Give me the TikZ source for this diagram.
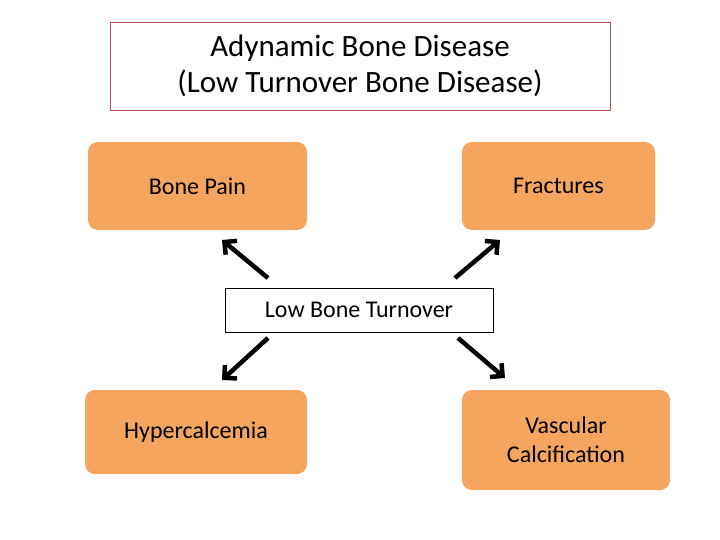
\documentclass[tikz,border=0pt]{standalone}
\usepackage{fontspec}
\setmainfont{Carlito}
\usetikzlibrary{arrows.meta,positioning}
\definecolor{boxorange}{HTML}{F6A55E}
\definecolor{titleframe}{HTML}{C0504D}
\tikzset{
block/.style={rectangle, fill=boxorange, text centered, rounded corners=10pt, font=\fontsize{24}{29}\selectfont, align=center},
line/.style={draw, line width=4.5pt, -{Straight Barb[length=9pt,width=18pt]}}
}
\begin{document}
\begin{tikzpicture}[x=1pt, y=-1pt]
    \useasboundingbox (0,0) rectangle (720,540);
    % Place nodes
    \node [draw=titleframe, line width=0.6pt, minimum width=500pt, minimum height=88pt, align=center,
           font=\fontsize{31}{36}\selectfont] (title) at (360,66) {Adynamic Bone Disease\\(Low Turnover Bone Disease)};
    \node [block, minimum width=219pt, minimum height=88pt] (pain) at (197.5,186) {Bone Pain};
    \node [block, minimum width=193pt, minimum height=88pt] (fract) at (558.5,186) {Fractures};
    \node [draw, line width=0.6pt, minimum width=268pt, minimum height=44pt,
           font=\fontsize{24}{29}\selectfont] (low) at (359,310) {Low Bone Turnover};
    \node [block, minimum width=222pt, minimum height=84pt] (hyper) at (196,432) {Hypercalcemia};
    \node [block, minimum width=208pt, minimum height=100pt] (vasc) at (566,440) {Vascular\\Calcification};
    % Arrow ends
    \coordinate (a1) at (268,278); \coordinate (b1) at (222,240);
    \coordinate (a2) at (455,278); \coordinate (b2) at (500,240);
    \coordinate (a3) at (268,338); \coordinate (b3) at (222,380);
    \coordinate (a4) at (458,338); \coordinate (b4) at (505,378);
    % Draw edges
    \path [line] (a1) -- (b1);
    \path [line] (a2) -- (b2);
    \path [line] (a3) -- (b3);
    \path [line] (a4) -- (b4);
\end{tikzpicture}
\end{document}
